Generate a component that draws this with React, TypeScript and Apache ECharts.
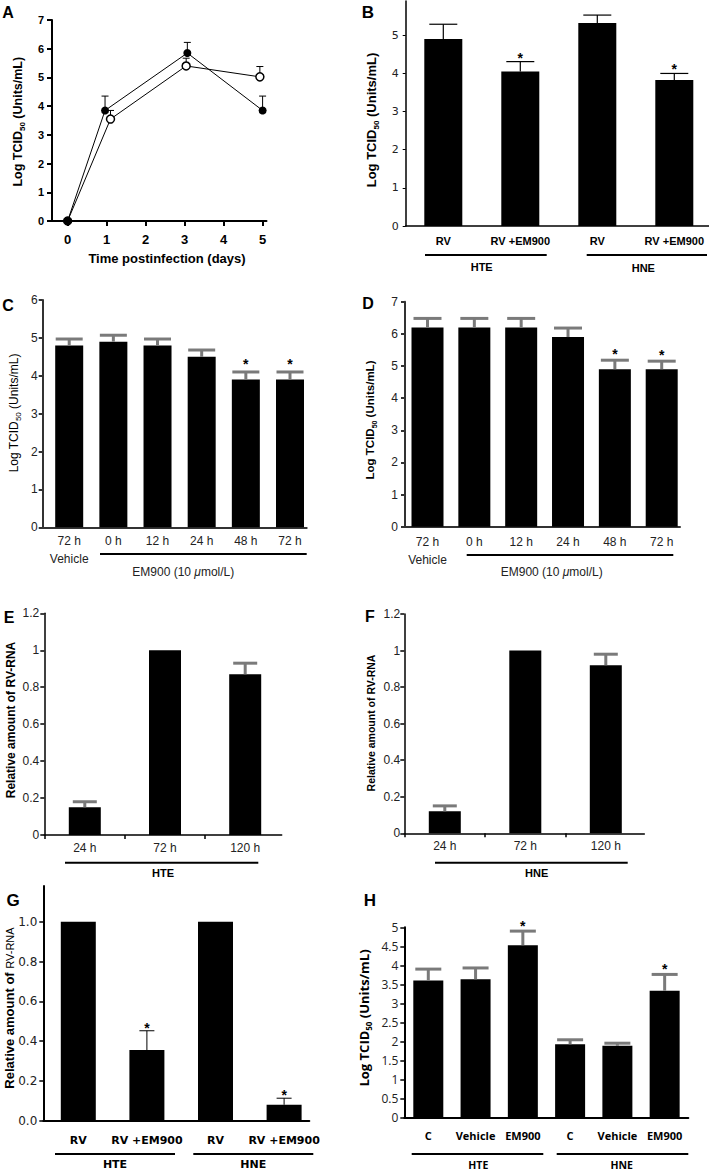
import React, { useEffect, useRef } from "react";
import * as echarts from "echarts";

const ARIAL = "Liberation Sans, Arial, sans-serif";
const DEJAVU = "DejaVu Sans, Verdana, sans-serif";
const OPEN = "Open Sans, sans-serif";

// ---- Panel A : virus growth curve ----
const aXTicks = [0, 1, 2, 3, 4, 5];
const aDaysFilled = [0, 0.96, 3.07, 5.0];
const aFilled = [0, 3.85, 5.85, 3.85];
const aFilledUpper = [0, 4.35, 6.22, 4.35];
const aDaysOpen = [0, 1.1, 3.04, 4.93];
const aOpen = [0, 3.55, 5.4, 5.02];
const aOpenUpper = [0, 3.85, 5.67, 5.38];

// ---- Panel B ----
const bCats = ["RV", "RV +EM900", "RV", "RV +EM900"];
const bMeans = [4.9, 4.05, 5.32, 3.83];
const bUpper = [5.29, 4.31, 5.53, 4.0];
const bSig = [0, 1, 0, 1];
const bYTicks = [0, 1, 2, 3, 4, 5];

// ---- Panel C ----
const cCats = ["72 h\nVehicle", "0 h", "12 h", "24 h", "48 h", "72 h"];
const cMeans = [4.8, 4.9, 4.8, 4.5, 3.9, 3.9];
const cUpper = [4.97, 5.07, 4.97, 4.68, 4.1, 4.1];
const cSig = [0, 0, 0, 0, 1, 1];
const cYTicks = [0, 1, 2, 3, 4, 5, 6];

// ---- Panel D ----
const dCats = ["72 h\nVehicle", "0 h", "12 h", "24 h", "48 h", "72 h"];
const dMeans = [6.2, 6.2, 6.2, 5.9, 4.9, 4.9];
const dUpper = [6.48, 6.48, 6.48, 6.18, 5.18, 5.15];
const dSig = [0, 0, 0, 0, 1, 1];
const dYTicks = [0, 1, 2, 3, 4, 5, 6, 7];

// ---- Panel E ----
const eCats = ["24 h", "72 h", "120 h"];
const eMeans = [0.15, 1.0, 0.87];
const eUpper = [0.18, null, 0.93];
const eSig = [0, 0, 0];
const eYTicks = [0, 0.2, 0.4, 0.6, 0.8, 1, 1.2];
const eXTicks = [-0.5, 0.5, 1.5];

// ---- Panel F ----
const fCats = ["24 h", "72 h", "120 h"];
const fMeans = [0.12, 1.0, 0.92];
const fUpper = [0.15, null, 0.98];
const fSig = [0, 0, 0];
const fYTicks = [0, 0.2, 0.4, 0.6, 0.8, 1, 1.2];
const fXTicks = [-0.5, 0.5, 1.5];

// ---- Panel G ----
const gCats = ["RV", "RV +EM900", "RV", "RV +EM900"];
const gMeans = [1.0, 0.355, 1.0, 0.08];
const gUpper = [null, 0.452, null, 0.113];
const gSig = [0, 1, 0, 1];
const gYTicks = [0, 0.2, 0.4, 0.6, 0.8, 1.0];

// ---- Panel H ----
const hCats = ["C", "Vehicle", "EM900", "C", "Vehicle", "EM900"];
const hMeans = [3.6, 3.63, 4.53, 1.92, 1.88, 3.33];
const hUpper = [3.9, 3.93, 4.9, 2.04, 1.95, 3.76];
const hSig = [0, 0, 1, 0, 0, 1];
const hYTicks = [0, 0.5, 1, 1.5, 2, 2.5, 3, 3.5, 4, 4.5, 5];

const errRender =
  (color: string, lw: number, cap: number, starGap: number, starSize: number) =>
  (params: any, api: any) => {
    const x = api.value(0);
    const m = api.value(1);
    const u = api.value(2);
    const s = api.value(3);
    const a = api.coord([x, m]);
    const b = api.coord([x, u]);
    const ch: any[] = [
      { type: "line", shape: { x1: a[0], y1: a[1], x2: b[0], y2: b[1] }, style: { stroke: color, lineWidth: lw } },
      { type: "line", shape: { x1: b[0] - cap / 2, y1: b[1], x2: b[0] + cap / 2, y2: b[1] }, style: { stroke: color, lineWidth: lw } },
    ];
    if (s) {
      ch.push({
        type: "text",
        x: b[0],
        y: b[1] - starGap,
        style: { text: "*", fontSize: starSize, fontFamily: ARIAL, fontWeight: "bold", fill: "#000", align: "center", verticalAlign: "middle", legacy: false },
      });
    }
    return { type: "group", children: ch };
  };

function T(x: number, y: number, text: string, size: number, weight = "normal", family = ARIAL, rot = 0, extra: any = {}) {
  return {
    type: "text",
    x,
    y,
    rotation: rot,
    silent: true,
    style: { text, fontSize: size, fontWeight: weight, fontFamily: family, fill: "#000", align: "center", verticalAlign: "middle", legacy: false, ...extra },
  };
}
function L(x1: number, x2: number, y: number, w = 2) {
  return { type: "line", silent: true, shape: { x1, y1: y, x2, y2: y }, style: { stroke: "#000", lineWidth: w } };
}
function tcid(x: number, y: number, size: number, weight: string, family: string) {
  const sub = Math.round(size * 0.65);
  return {
    type: "text",
    x,
    y,
    rotation: Math.PI / 2,
    silent: true,
    style: {
      text: "{a|Log TCID}{s|50}{a| (Units/mL)}",
      align: "center",
      verticalAlign: "middle",
      legacy: false,
      rich: {
        a: { fontSize: size, fontWeight: weight, fontFamily: family, fill: "#000", lineHeight: size + 4 },
        s: { fontSize: sub, fontWeight: weight, fontFamily: family, fill: "#000", verticalAlign: "bottom", lineHeight: sub },
      },
    },
  };
}

export default function App() {
  const ref = useRef<HTMLDivElement>(null);
  useEffect(() => {
    if (!ref.current) return;
    const chart = echarts.init(ref.current, undefined, { renderer: "svg" });
    const grids: any[] = [];
    const xAxes: any[] = [];
    const yAxes: any[] = [];
    const series: any[] = [];

    // Panel A
    grids.push({ left: 52, top: 20, width: 214.5, height: 201 });
    xAxes.push({
      type: "value",
      gridIndex: 0,
      min: -0.4,
      max: 5.1,
      splitLine: { show: false },
      axisLine: { show: true, onZero: false, lineStyle: { color: "#000", width: 2 } },
      axisTick: { show: true, customValues: aXTicks, length: 5, lineStyle: { color: "#000", width: 2 } },
      axisLabel: { customValues: aXTicks, fontSize: 13, fontWeight: "bold", fontFamily: ARIAL, color: "#000", margin: 12 },
    });
    yAxes.push({
      type: "value",
      gridIndex: 0,
      min: 0,
      max: 7,
      interval: 1,
      splitLine: { show: false },
      axisLine: { show: true, onZero: false, lineStyle: { color: "#000", width: 2 } },
      axisTick: { show: true, length: 5, lineStyle: { color: "#000", width: 2 } },
      axisLabel: { fontSize: 11, fontWeight: "bold", fontFamily: ARIAL, color: "#000", margin: 8 },
    });
    const aErr: any[] = [];
    aDaysFilled.forEach((d, i) => { if (aFilledUpper[i] > aFilled[i]) aErr.push([d, aFilled[i], aFilledUpper[i], 0]); });
    aDaysOpen.forEach((d, i) => { if (aOpenUpper[i] > aOpen[i]) aErr.push([d, aOpen[i], aOpenUpper[i], 0]); });
    series.push({ type: "custom", xAxisIndex: 0, yAxisIndex: 0, data: aErr, renderItem: errRender("#000", 1, 7, 0, 0), z: 1, silent: true, encode: { x: 0, y: [1, 2] } });
    series.push({
      type: "line", xAxisIndex: 0, yAxisIndex: 0, data: aDaysOpen.map((d, i) => [d, aOpen[i]]),
      symbol: "circle", symbolSize: 8, itemStyle: { color: "#fff", borderColor: "#000", borderWidth: 1.5 }, lineStyle: { color: "#000", width: 1 }, z: 3, silent: true,
    });
    series.push({
      type: "line", xAxisIndex: 0, yAxisIndex: 0, data: aDaysFilled.map((d, i) => [d, aFilled[i]]),
      symbol: "circle", symbolSize: 8, itemStyle: { color: "#000" }, lineStyle: { color: "#000", width: 1 }, z: 4, silent: true,
    });

    const addBarPanel = (k: number, p: any) => {
      const xMin = (p.axL - p.c0) / p.sp;
      const xMax = (p.axR - p.c0) / p.sp;
      const perUnit = (p.y0 - p.yRefPx) / p.yRefVal;
      const top = p.y0 - p.yMax * perUnit;
      grids.push({ left: p.axL, top, width: p.axR - p.axL, height: p.y0 - top });
      const idx = p.cats.map((_: any, i: number) => i);
      xAxes.push({
        type: "value",
        gridIndex: k,
        min: xMin,
        max: xMax,
        splitLine: { show: false },
        axisLine: { show: true, onZero: false, lineStyle: { color: p.axisColor, width: p.axisWidth } },
        axisTick: p.xTicks
          ? { show: true, customValues: p.xTicks, length: p.xTickLen, lineStyle: { color: p.axisColor, width: p.axisWidth } }
          : { show: false },
        axisLabel: { customValues: idx, formatter: (v: number) => p.cats[Math.round(v)] ?? "", margin: p.xMargin, ...p.xFont },
      });
      yAxes.push({
        type: "value",
        gridIndex: k,
        min: 0,
        max: p.yMax,
        splitLine: { show: false },
        axisLine: { show: true, onZero: false, lineStyle: { color: p.axisColor, width: p.axisWidth } },
        axisTick: { show: true, customValues: p.yTicks, length: p.yTickLen, lineStyle: { color: p.axisColor, width: p.yTickWidth } },
        axisLabel: { customValues: p.yTicks, formatter: p.yFmt, margin: p.yMargin, ...p.yFont },
      });
      series.push({
        type: "bar", xAxisIndex: k, yAxisIndex: k, barWidth: p.barWidth,
        data: p.means.map((v: number, i: number) => [i, v]), itemStyle: { color: "#000" }, silent: true, z: 2,
      });
      const err: any[] = [];
      p.means.forEach((m: number, i: number) => { const u = p.upper[i]; if (u != null) err.push([i, m, u, p.sig[i]]); });
      series.push({
        type: "custom", xAxisIndex: k, yAxisIndex: k, data: err,
        renderItem: errRender(p.errColor, p.errWidth, p.cap, p.starGap, 14), z: 3, silent: true, encode: { x: 0, y: [1, 2] },
      });
    };

    const reg = (family: string, size: number, color = "#222") => ({ fontFamily: family, fontSize: size, color, fontWeight: "normal" });
    const bold = (family: string, size: number) => ({ fontFamily: family, fontSize: size, color: "#000", fontWeight: "bold" });

    // B
    addBarPanel(1, {
      cats: bCats, means: bMeans, upper: bUpper, sig: bSig,
      c0: 443.3, sp: 77, axL: 405.7, axR: 709,
      y0: 226, yRefVal: 5, yRefPx: 35.3, yMax: 5.9, yTicks: bYTicks,
      barWidth: 38, errColor: "#000", errWidth: 1.2, cap: 28, starGap: 4,
      axisColor: "#000", axisWidth: 1.5, yTickLen: 3, yTickWidth: 1,
      yFont: reg(DEJAVU, 11), xFont: bold(ARIAL, 11), yMargin: 7, xMargin: 9,
    });
    // C
    addBarPanel(2, {
      cats: cCats, means: cMeans, upper: cUpper, sig: cSig,
      c0: 69.2, sp: 44.16, axL: 42.7, axR: 306.7,
      y0: 527.3, yRefVal: 6, yRefPx: 300, yMax: 6, yTicks: cYTicks,
      barWidth: 28, errColor: "#7a7a7a", errWidth: 3, cap: 27, starGap: 8,
      axisColor: "#333", axisWidth: 2, yTickLen: 4, yTickWidth: 2,
      yFont: reg(ARIAL, 12), xFont: { ...reg(ARIAL, 12), lineHeight: 18 }, yMargin: 5, xMargin: 5,
    });
    // D
    addBarPanel(3, {
      cats: dCats, means: dMeans, upper: dUpper, sig: dSig,
      c0: 427.5, sp: 46.84, axL: 405, axR: 680,
      y0: 526.7, yRefVal: 7, yRefPx: 301.7, yMax: 7, yTicks: dYTicks,
      barWidth: 32, errColor: "#7a7a7a", errWidth: 3, cap: 28, starGap: 6,
      axisColor: "#333", axisWidth: 2, yTickLen: 4, yTickWidth: 2,
      yFont: reg(ARIAL, 12), xFont: { ...reg(ARIAL, 12), lineHeight: 18 }, yMargin: 7, xMargin: 6,
    });
    // E
    addBarPanel(4, {
      cats: eCats, means: eMeans, upper: eUpper, sig: eSig,
      c0: 84.8, sp: 80.2, axL: 44.3, axR: 281.7,
      y0: 835, yRefVal: 1.2, yRefPx: 613.3, yMax: 1.2, yTicks: eYTicks,
      barWidth: 32, errColor: "#7a7a7a", errWidth: 3, cap: 24, starGap: 6,
      axisColor: "#000", axisWidth: 1.5, yTickLen: 4, yTickWidth: 1.5,
      xTicks: eXTicks, xTickLen: 4,
      yFont: reg(ARIAL, 12), xFont: reg(ARIAL, 12), yMargin: 5, xMargin: 7,
    });
    // F
    addBarPanel(5, {
      cats: fCats, means: fMeans, upper: fUpper, sig: fSig,
      c0: 444.8, sp: 80.5, axL: 404.3, axR: 644.3,
      y0: 833.3, yRefVal: 1.2, yRefPx: 614, yMax: 1.2, yTicks: fYTicks,
      barWidth: 32, errColor: "#7a7a7a", errWidth: 3, cap: 24, starGap: 6,
      axisColor: "#000", axisWidth: 1.5, yTickLen: 4, yTickWidth: 1.5,
      xTicks: fXTicks, xTickLen: 4,
      yFont: reg(ARIAL, 12), xFont: reg(ARIAL, 12), yMargin: 4, xMargin: 7,
    });
    // G
    addBarPanel(6, {
      cats: gCats, means: gMeans, upper: gUpper, sig: gSig,
      c0: 78.3, sp: 68.6, axL: 43.3, axR: 309.3,
      y0: 1120.7, yRefVal: 1, yRefPx: 921.7, yMax: 1.18, yTicks: gYTicks,
      yFmt: (v: number) => v.toFixed(1),
      barWidth: 35, errColor: "#000", errWidth: 1, cap: 15, starGap: 3,
      axisColor: "#000", axisWidth: 2, yTickLen: 4, yTickWidth: 1.5,
      yFont: reg(DEJAVU, 12), xFont: bold(DEJAVU, 11), yMargin: 6, xMargin: 14,
    });
    // H
    addBarPanel(7, {
      cats: hCats, means: hMeans, upper: hUpper, sig: hSig,
      c0: 428.3, sp: 47.27, axL: 404.3, axR: 688.3,
      y0: 1117.3, yRefVal: 5, yRefPx: 927.3, yMax: 5, yTicks: hYTicks,
      barWidth: 30, errColor: "#7a7a7a", errWidth: 3, cap: 26, starGap: 5,
      axisColor: "#000", axisWidth: 2, yTickLen: 4, yTickWidth: 1.5,
      yFont: reg(OPEN, 12), xFont: bold(OPEN, 11), yMargin: 6, xMargin: 13,
    });

    const R = Math.PI / 2;
    const graphic: any[] = [
      // panel letters
      T(8, 12, "A", 16, "bold"),
      T(368, 12, "B", 17, "bold"),
      T(8, 305, "C", 16, "bold"),
      T(368, 303, "D", 16, "bold"),
      T(9, 617, "E", 16, "bold"),
      T(370, 616, "F", 16, "bold"),
      T(13, 900, "G", 17, "bold"),
      T(370, 900, "H", 17, "bold"),
      // axis titles
      tcid(18.3, 121.7, 12.5, "bold", ARIAL),
      T(167, 258, "Time postinfection (days)", 13, "bold"),
      tcid(371.7, 120, 13, "bold", ARIAL),
      tcid(14, 413, 12, "normal", ARIAL),
      tcid(370, 420, 11.5, "bold", ARIAL),
      T(10.5, 720, "Relative amount of RV-RNA", 12, "bold", ARIAL, R),
      T(371, 723, "Relative amount of RV-RNA", 10.5, "bold", ARIAL, R),
      {
        type: "text", x: 9.5, y: 1008, rotation: R, silent: true,
        style: {
          text: "{a|Relative amount of }{b|RV-RNA}", align: "center", verticalAlign: "middle", legacy: false,
          rich: {
            a: { fontSize: 13, fontWeight: "bold", fontFamily: ARIAL, fill: "#000", lineHeight: 16 },
            b: { fontSize: 11, fontWeight: "normal", fontFamily: ARIAL, fill: "#000", lineHeight: 16 },
          },
        },
      },
      tcid(364.3, 1018, 13, "bold", OPEN),
      // group annotations B
      L(425, 546.7, 255), L(586.7, 707, 255),
      T(481.7, 267, "HTE", 11, "bold"), T(643.3, 267.7, "HNE", 11, "bold"),
      // C
      L(100, 306.7, 554),
      {
        type: "text", x: 183.3, y: 571.7, silent: true,
        style: {
          text: "{n|EM900 (10 }{i|μ}{n|mol/L)}", align: "center", verticalAlign: "middle", legacy: false,
          rich: {
            n: { fontSize: 12, fontFamily: ARIAL, fill: "#222" },
            i: { fontSize: 12, fontFamily: ARIAL, fill: "#222", fontStyle: "italic" },
          },
        },
      },
      // D
      L(466.7, 673.3, 555),
      {
        type: "text", x: 551.7, y: 571.7, silent: true,
        style: {
          text: "{n|EM900 (10 }{i|μ}{n|mol/L)}", align: "center", verticalAlign: "middle", legacy: false,
          rich: {
            n: { fontSize: 12, fontFamily: ARIAL, fill: "#222" },
            i: { fontSize: 12, fontFamily: ARIAL, fill: "#222", fontStyle: "italic" },
          },
        },
      },
      // E, F
      L(65, 258.3, 862.7), T(163, 873, "HTE", 11, "bold"),
      L(435, 627.7, 862.7), T(536.7, 873, "HNE", 11, "bold"),
      // G
      L(55, 175, 1154), L(193.3, 313.3, 1154),
      T(115, 1164, "HTE", 11, "bold", DEJAVU), T(253.3, 1164, "HNE", 11, "bold", DEJAVU),
      // H
      L(411.7, 543.3, 1154), L(556.7, 688.3, 1154),
      T(478.3, 1165, "HTE", 10.5, "bold", OPEN), T(621.7, 1165, "HNE", 10.5, "bold", OPEN),
    ];

    chart.setOption({
      animation: false,
      backgroundColor: "#fff",
      textStyle: { fontFamily: ARIAL },
      grid: grids,
      xAxis: xAxes,
      yAxis: yAxes,
      series,
      graphic,
    });
    return () => chart.dispose();
  }, []);
  return <div ref={ref} style={{ position: "absolute", left: 0, top: 0, width: 709, height: 1174 }} />;
}
